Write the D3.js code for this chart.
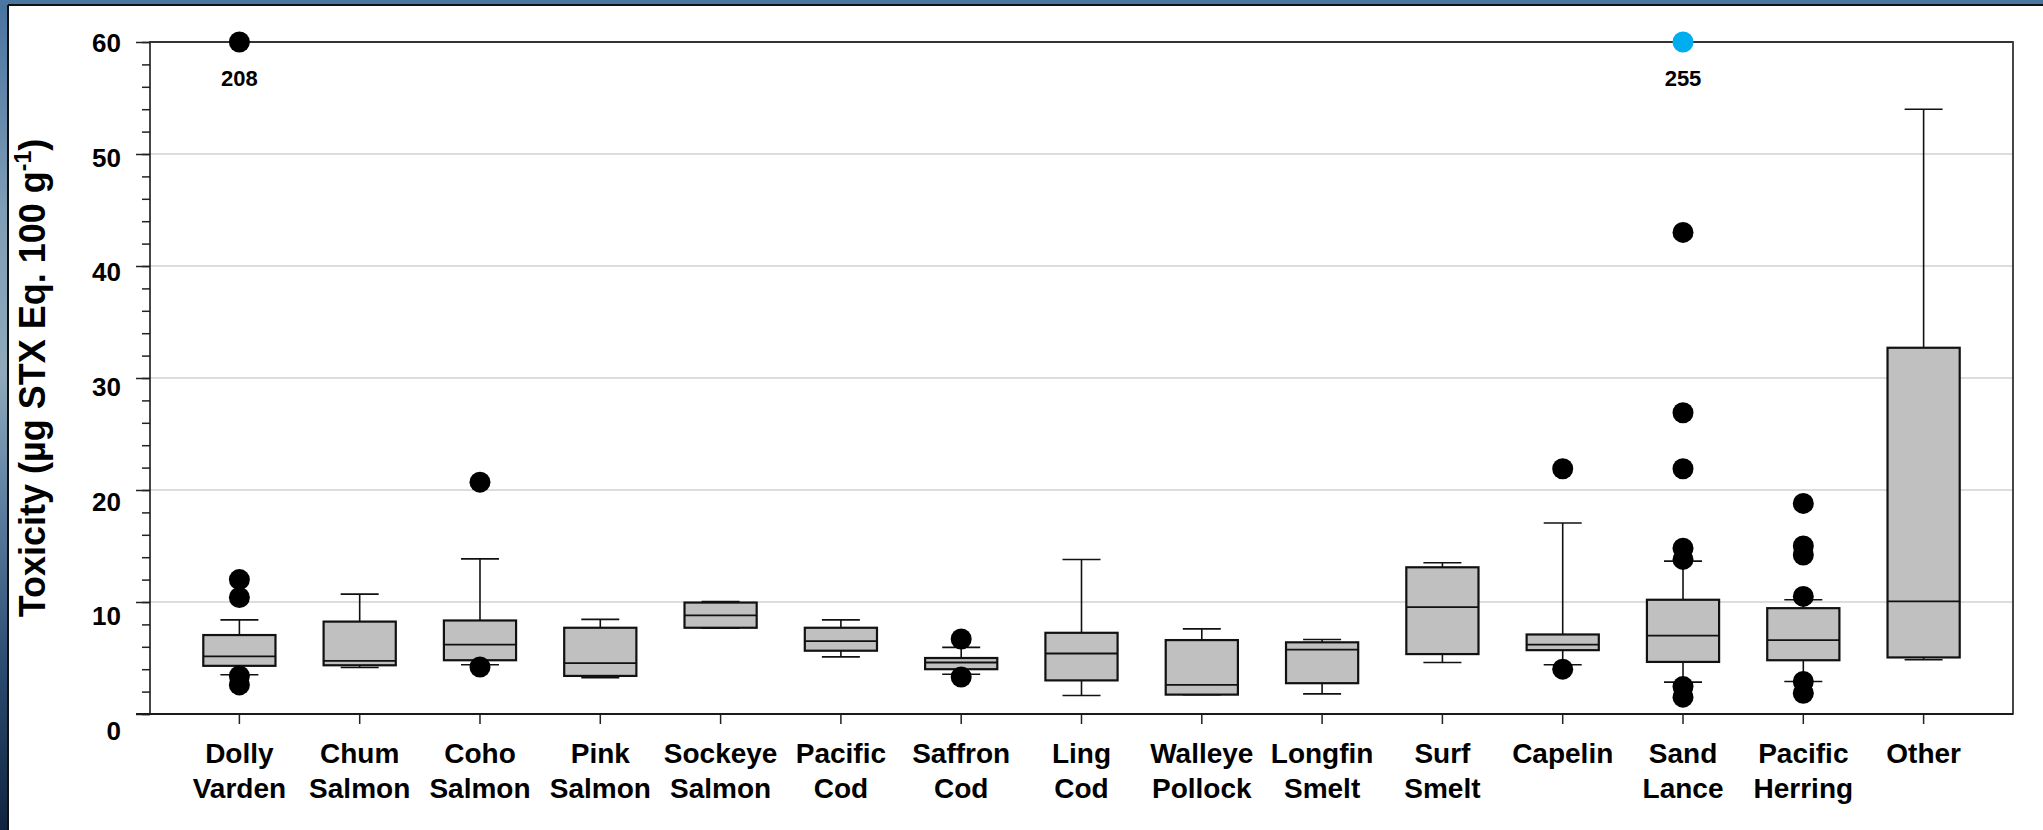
<!DOCTYPE html>
<html>
<head>
<meta charset="utf-8">
<script src="https://cdn.jsdelivr.net/npm/d3@7"></script>
<style>
  html, body { margin: 0; padding: 0; background: #ffffff; }
  svg { display: block; }
  text { font-family: "Liberation Sans", Arial, sans-serif; font-weight: bold; fill: #000; }
</style>
</head>
<body>
<svg id="chart" width="2043" height="830"></svg>
<script>
// PSP toxicity by fish species: box plots (quartiles, whiskers, outliers)
const categories = [
  "Dolly Varden", "Chum Salmon", "Coho Salmon", "Pink Salmon", "Sockeye Salmon",
  "Pacific Cod", "Saffron Cod", "Ling Cod", "Walleye Pollock", "Longfin Smelt",
  "Surf Smelt", "Capelin", "Sand Lance", "Pacific Herring", "Other"
];
const whiskerLow  = [3.5, 4.15, 4.4, 3.25, 7.65, 5.1, 3.55, 1.65, 1.73, 1.8, 4.6, 4.4, 2.85, 2.9, 4.85];
const q1          = [4.3, 4.35, 4.8, 3.4, 7.7, 5.65, 4.0, 3.0, 1.73, 2.75, 5.35, 5.7, 4.65, 4.8, 5.05];
const median      = [5.15, 4.75, 6.2, 4.55, 8.8, 6.5, 4.6, 5.4, 2.6, 5.75, 9.55, 6.2, 7.0, 6.6, 10.05];
const q3          = [7.05, 8.25, 8.35, 7.7, 9.95, 7.7, 5.0, 7.25, 6.6, 6.4, 13.1, 7.1, 10.2, 9.45, 32.7];
const whiskerHigh = [8.4, 10.7, 13.85, 8.45, 10.05, 8.4, 5.95, 13.8, 7.6, 6.65, 13.5, 17.05, 13.65, 10.2, 54.0];
const outliers = [
  [12.0, 10.4, 3.4, 2.6],
  [],
  [20.7, 4.2],
  [],
  [],
  [],
  [6.7, 3.3],
  [],
  [],
  [],
  [],
  [21.9, 4.0],
  [43.0, 26.9, 21.9, 14.8, 13.8, 2.45, 1.5],
  [18.8, 15.0, 14.2, 10.5, 2.9, 1.85],
  []
];
// Values beyond the axis maximum, pinned to the top edge and labelled
const offScaleCategories = ["Dolly Varden", "Sand Lance"];
const offScaleValues = [208, 255];
const yTicks = [0, 10, 20, 30, 40, 50, 60];
const yTitle = "Toxicity (\u00b5g STX Eq. 100 g";

const svg = d3.select("#chart");
const W = 2043, H = 830;
const plot = { left: 150, right: 2013, top: 42, bottom: 714 };

// Backdrop: photo-like blue strip behind a white panel
const defs = svg.append("defs");
const grad = defs.append("linearGradient").attr("id", "bg").attr("x1", 0).attr("y1", 0).attr("x2", 0).attr("y2", 1);
[["0%", "#4873a0"], ["25%", "#7f9db5"], ["45%", "#8fa9ba"], ["60%", "#5f82a3"], ["80%", "#2c4c72"], ["100%", "#10243f"]]
  .forEach(([o, c]) => grad.append("stop").attr("offset", o).attr("stop-color", c));
svg.append("rect").attr("width", W).attr("height", H).attr("fill", "url(#bg)");
svg.append("rect").attr("x", 0).attr("y", 0).attr("width", W).attr("height", 5).attr("fill", "#4a76a2");
svg.append("rect").attr("x", 8).attr("y", 5).attr("width", W - 8).attr("height", H - 5).attr("fill", "#ffffff");
svg.append("line").attr("x1", 8).attr("x2", W).attr("y1", 5).attr("y2", 5).attr("stroke", "#111").attr("stroke-width", 2);
svg.append("line").attr("x1", 8).attr("x2", 8).attr("y1", 5).attr("y2", H).attr("stroke", "#111").attr("stroke-width", 2);

const x = d3.scaleBand().domain(categories).range([plot.left, plot.right])
  .paddingInner(0.4).paddingOuter(0.443);
const y = d3.scaleLinear().domain([0, 60]).range([plot.bottom, plot.top]).clamp(true);
// tick labels sit on a slightly taller scale than the tick marks
const yLabel = d3.scaleLinear().domain([0, 60]).range([730, 42]);

const cx = c => x(c) + x.bandwidth() / 2;
const capW = 38;

// Gridlines
svg.append("g").selectAll("line").data(yTicks.filter(t => t > 0 && t < 60)).join("line")
  .attr("x1", plot.left).attr("x2", plot.right)
  .attr("y1", d => y(d)).attr("y2", d => y(d))
  .attr("stroke", "#d2d2d2").attr("stroke-width", 1.6);

// Y axis: minor ticks every 2, major ticks with labels every 10
svg.append("g").attr("transform", `translate(${plot.left},0)`)
  .call(d3.axisLeft(y).tickValues(d3.range(0, 61, 2)).tickSize(8).tickFormat(""))
  .call(g => g.select(".domain").remove())
  .call(g => g.selectAll("line").attr("stroke", "#222").attr("stroke-width", 1.5));
const yAxisG = svg.append("g").attr("transform", `translate(${plot.left},0)`)
  .call(d3.axisLeft(y).tickValues(yTicks).tickSize(14).tickPadding(16))
  .call(g => g.select(".domain").remove())
  .call(g => g.selectAll("line").attr("stroke", "#222").attr("stroke-width", 1.5));
yAxisG.selectAll("text")
  .attr("font-size", 26).attr("font-family", "DejaVu Sans, Verdana, sans-serif")
  .attr("font-weight", "bold").attr("fill", "#000")
  .attr("x", -29)
  .attr("dy", d => (yLabel(d) - y(d)) + 9.5 + "px");

// X axis with two-line category labels
const xAxisG = svg.append("g").attr("transform", `translate(0,${plot.bottom})`)
  .call(d3.axisBottom(x).tickSize(10).tickPadding(20))
  .call(g => g.select(".domain").remove())
  .call(g => g.selectAll("line").attr("stroke", "#222").attr("stroke-width", 1.5));
xAxisG.selectAll("text")
  .attr("font-size", 28).attr("font-family", "Liberation Sans, Arial, sans-serif")
  .attr("font-weight", "bold").attr("fill", "#000")
  .attr("y", 49).attr("dy", null)
  .each(function (d) {
    const t = d3.select(this);
    t.text(null);
    d.split(" ").forEach((word, i) => {
      t.append("tspan").attr("x", 0).attr("dy", i === 0 ? 0 : 35).text(word);
    });
  });

// Plot frame
svg.append("rect")
  .attr("x", plot.left).attr("y", plot.top)
  .attr("width", plot.right - plot.left).attr("height", plot.bottom - plot.top)
  .attr("fill", "none").attr("stroke", "#1a1a1a").attr("stroke-width", 1.6);
svg.append("line").attr("x1", plot.left).attr("x2", plot.right)
  .attr("y1", plot.top).attr("y2", plot.top).attr("stroke", "#333").attr("stroke-width", 2.2);
svg.append("line").attr("x1", plot.left - 14).attr("x2", plot.right)
  .attr("y1", plot.bottom).attr("y2", plot.bottom).attr("stroke", "#1a1a1a").attr("stroke-width", 2);

// Box plots
const boxes = categories.map((c, i) => ({
  c, wl: whiskerLow[i], q1: q1[i], med: median[i], q3: q3[i], wh: whiskerHigh[i], out: outliers[i]
}));
const bg = svg.append("g").selectAll("g").data(boxes).join("g");
bg.append("line").attr("x1", d => cx(d.c)).attr("x2", d => cx(d.c))
  .attr("y1", d => y(d.wh)).attr("y2", d => y(d.q3)).attr("stroke", "#111").attr("stroke-width", 1.6);
bg.append("line").attr("x1", d => cx(d.c)).attr("x2", d => cx(d.c))
  .attr("y1", d => y(d.q1)).attr("y2", d => y(d.wl)).attr("stroke", "#111").attr("stroke-width", 1.6);
bg.append("line").attr("x1", d => cx(d.c) - capW / 2).attr("x2", d => cx(d.c) + capW / 2)
  .attr("y1", d => y(d.wh)).attr("y2", d => y(d.wh)).attr("stroke", "#111").attr("stroke-width", 1.6);
bg.append("line").attr("x1", d => cx(d.c) - capW / 2).attr("x2", d => cx(d.c) + capW / 2)
  .attr("y1", d => y(d.wl)).attr("y2", d => y(d.wl)).attr("stroke", "#111").attr("stroke-width", 1.6);
bg.append("rect")
  .attr("x", d => x(d.c)).attr("width", x.bandwidth())
  .attr("y", d => y(d.q3)).attr("height", d => y(d.q1) - y(d.q3))
  .attr("fill", "#c0c0c0").attr("stroke", "#111").attr("stroke-width", 2.2);
bg.append("line").attr("x1", d => x(d.c)).attr("x2", d => x(d.c) + x.bandwidth())
  .attr("y1", d => y(d.med)).attr("y2", d => y(d.med)).attr("stroke", "#111").attr("stroke-width", 1.8);

// Outliers
bg.selectAll("circle").data(d => d.out.map(v => ({ c: d.c, v }))).join("circle")
  .attr("cx", d => cx(d.c)).attr("cy", d => y(d.v)).attr("r", 10.5).attr("fill", "#000");

// Off-scale values pinned at the axis maximum
const off = offScaleCategories.map((c, i) => ({ c, v: offScaleValues[i] }));
const offColor = d => d.c === "Sand Lance" ? "#00aeef" : "#000";
svg.append("g").selectAll("circle").data(off).join("circle")
  .attr("cx", d => cx(d.c)).attr("cy", d => y(d.v)).attr("r", 10.5).attr("fill", offColor);
svg.append("g").selectAll("text").data(off).join("text")
  .attr("x", d => cx(d.c)).attr("y", d => y(d.v) + 44)
  .attr("text-anchor", "middle").attr("font-size", 22)
  .text(d => d.v);

// Y axis title
const title = svg.append("text")
  .attr("transform", `translate(45,${(plot.top + plot.bottom) / 2}) rotate(-90)`)
  .attr("text-anchor", "middle").attr("font-size", 36);
title.append("tspan").text(yTitle);
title.append("tspan").attr("font-size", 23).attr("dy", -14).text("-1");
title.append("tspan").attr("dy", 14).text(")");
</script>
</body>
</html>
